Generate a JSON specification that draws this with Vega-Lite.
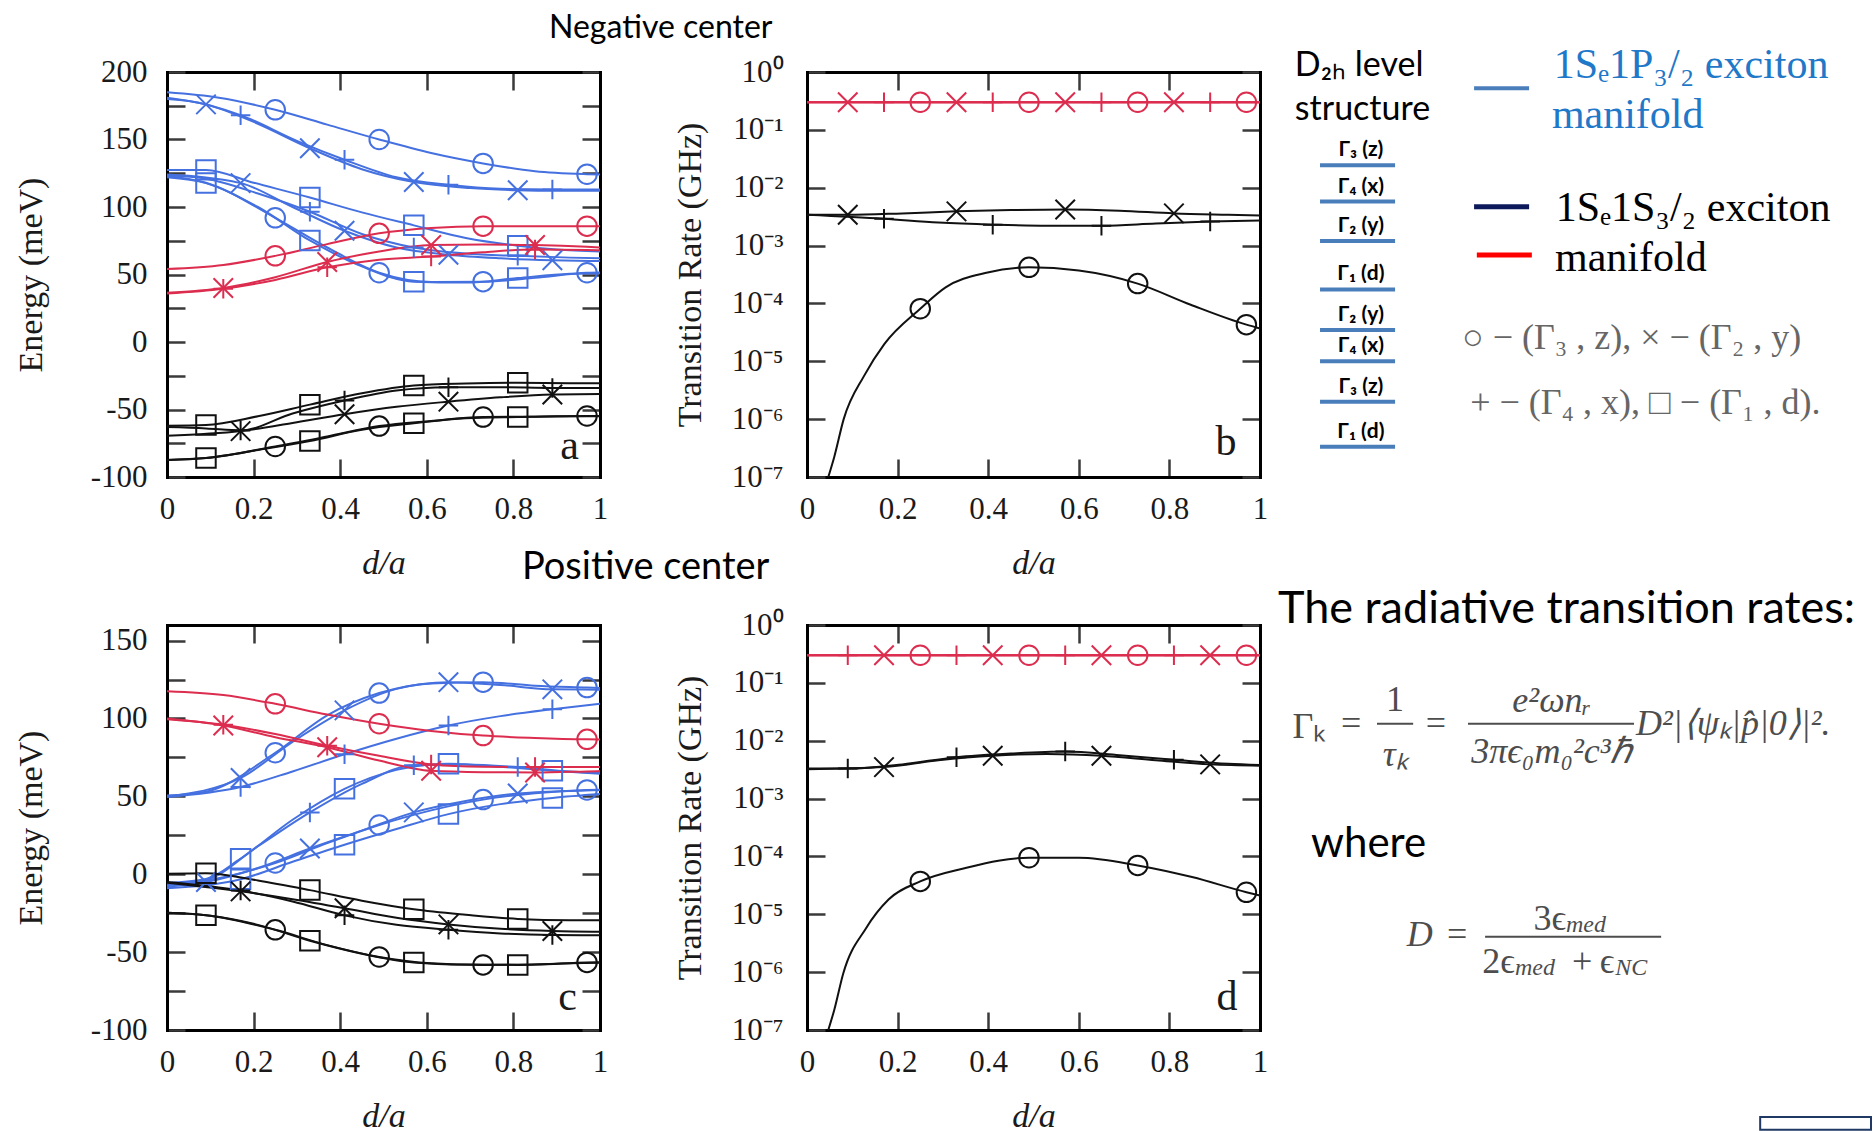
{
"$schema": "https://vega.github.io/schema/vega-lite/v6.json",
"background": "white",
"padding": {"left": 14, "top": 12, "right": 0, "bottom": 0},
"config": {
  "view": {"stroke": null},
  "axis": {"grid": false, "domainColor": "#000", "domainWidth": 3, "domainCap": "square", "tickColor": "#3a3a3a", "tickWidth": 2.5, "tickSize": -18, "labelFont": "Liberation Serif", "labelFontSize": 31, "labelColor": "#1a1a1a", "titleFont": "Liberation Serif", "titleFontSize": 34, "titleFontWeight": "normal", "titleColor": "#1a1a1a", "labelOverlap": false, "labelFlush": false},
  "title": {"font": "Lato", "fontSize": 32, "fontWeight": "normal", "color": "#000"}
},
"datasets": {
"a": [
{"s":"P1","g":"P","m":"o","x":0,"y":185,"pt":0},{"s":"P1","g":"P","m":"o","x":0.12,"y":181,"pt":0},{"s":"P1","g":"P","m":"o","x":0.25,"y":172,"pt":1},{"s":"P1","g":"P","m":"o","x":0.37,"y":161,"pt":0},{"s":"P1","g":"P","m":"o","x":0.49,"y":150,"pt":1},{"s":"P1","g":"P","m":"o","x":0.61,"y":140,"pt":0},{"s":"P1","g":"P","m":"o","x":0.73,"y":132.3,"pt":1},{"s":"P1","g":"P","m":"o","x":0.85,"y":126.5,"pt":0},{"s":"P1","g":"P","m":"o","x":0.97,"y":124.3,"pt":1},{"s":"P1","g":"P","m":"o","x":1,"y":124,"pt":0},
{"s":"P2","g":"P","m":"x","x":0,"y":181,"pt":0},{"s":"P2","g":"P","m":"x","x":0.09,"y":176,"pt":1},{"s":"P2","g":"P","m":"x","x":0.2,"y":163,"pt":0},{"s":"P2","g":"P","m":"x","x":0.33,"y":143.5,"pt":1},{"s":"P2","g":"P","m":"x","x":0.45,"y":128,"pt":0},{"s":"P2","g":"P","m":"x","x":0.57,"y":118.5,"pt":1},{"s":"P2","g":"P","m":"x","x":0.7,"y":114,"pt":0},{"s":"P2","g":"P","m":"x","x":0.81,"y":112.4,"pt":1},{"s":"P2","g":"P","m":"x","x":0.9,"y":112,"pt":0},{"s":"P2","g":"P","m":"x","x":1,"y":112,"pt":0},
{"s":"P3","g":"P","m":"+","x":0,"y":180,"pt":0},{"s":"P3","g":"P","m":"+","x":0.05,"y":178.5,"pt":0},{"s":"P3","g":"P","m":"+","x":0.17,"y":168,"pt":1},{"s":"P3","g":"P","m":"+","x":0.3,"y":149,"pt":0},{"s":"P3","g":"P","m":"+","x":0.41,"y":135,"pt":1},{"s":"P3","g":"P","m":"+","x":0.53,"y":122,"pt":0},{"s":"P3","g":"P","m":"+","x":0.65,"y":116.4,"pt":1},{"s":"P3","g":"P","m":"+","x":0.77,"y":113.5,"pt":0},{"s":"P3","g":"P","m":"+","x":0.89,"y":113,"pt":1},{"s":"P3","g":"P","m":"+","x":1,"y":113,"pt":0},
{"s":"P4","g":"P","m":"s","x":0,"y":127.5,"pt":0},{"s":"P4","g":"P","m":"s","x":0.09,"y":127.5,"pt":1},{"s":"P4","g":"P","m":"s","x":0.2,"y":118,"pt":0},{"s":"P4","g":"P","m":"s","x":0.33,"y":107,"pt":1},{"s":"P4","g":"P","m":"s","x":0.45,"y":96,"pt":0},{"s":"P4","g":"P","m":"s","x":0.57,"y":86.4,"pt":1},{"s":"P4","g":"P","m":"s","x":0.69,"y":77,"pt":0},{"s":"P4","g":"P","m":"s","x":0.81,"y":71.3,"pt":1},{"s":"P4","g":"P","m":"s","x":0.9,"y":68.5,"pt":0},{"s":"P4","g":"P","m":"s","x":1,"y":67,"pt":0},
{"s":"P5","g":"P","m":"x","x":0,"y":124,"pt":0},{"s":"P5","g":"P","m":"x","x":0.17,"y":117.7,"pt":1},{"s":"P5","g":"P","m":"x","x":0.29,"y":100,"pt":0},{"s":"P5","g":"P","m":"x","x":0.41,"y":82.4,"pt":1},{"s":"P5","g":"P","m":"x","x":0.53,"y":70,"pt":0},{"s":"P5","g":"P","m":"x","x":0.65,"y":64.6,"pt":1},{"s":"P5","g":"P","m":"x","x":0.77,"y":62,"pt":0},{"s":"P5","g":"P","m":"x","x":0.89,"y":60.6,"pt":1},{"s":"P5","g":"P","m":"x","x":1,"y":60,"pt":0},
{"s":"P6","g":"P","m":"+","x":0,"y":123.5,"pt":0},{"s":"P6","g":"P","m":"+","x":0.09,"y":121,"pt":0},{"s":"P6","g":"P","m":"+","x":0.21,"y":110,"pt":0},{"s":"P6","g":"P","m":"+","x":0.33,"y":96.5,"pt":1},{"s":"P6","g":"P","m":"+","x":0.45,"y":80,"pt":0},{"s":"P6","g":"P","m":"+","x":0.57,"y":70,"pt":1},{"s":"P6","g":"P","m":"+","x":0.69,"y":65.5,"pt":0},{"s":"P6","g":"P","m":"+","x":0.81,"y":63.8,"pt":1},{"s":"P6","g":"P","m":"+","x":0.93,"y":62.5,"pt":0},{"s":"P6","g":"P","m":"+","x":1,"y":62,"pt":0},
{"s":"P7","g":"P","m":"o","x":0,"y":123,"pt":0},{"s":"P7","g":"P","m":"o","x":0.09,"y":118,"pt":0},{"s":"P7","g":"P","m":"o","x":0.25,"y":92,"pt":1},{"s":"P7","g":"P","m":"o","x":0.37,"y":70,"pt":0},{"s":"P7","g":"P","m":"o","x":0.49,"y":51.3,"pt":1},{"s":"P7","g":"P","m":"o","x":0.61,"y":44.5,"pt":0},{"s":"P7","g":"P","m":"o","x":0.73,"y":44.7,"pt":1},{"s":"P7","g":"P","m":"o","x":0.85,"y":47.5,"pt":0},{"s":"P7","g":"P","m":"o","x":0.97,"y":51.3,"pt":1},{"s":"P7","g":"P","m":"o","x":1,"y":51.5,"pt":0},
{"s":"P8","g":"P","m":"s","x":0,"y":122,"pt":0},{"s":"P8","g":"P","m":"s","x":0.09,"y":117.7,"pt":1},{"s":"P8","g":"P","m":"s","x":0.21,"y":100,"pt":0},{"s":"P8","g":"P","m":"s","x":0.33,"y":75.2,"pt":1},{"s":"P8","g":"P","m":"s","x":0.45,"y":56,"pt":0},{"s":"P8","g":"P","m":"s","x":0.57,"y":44.7,"pt":1},{"s":"P8","g":"P","m":"s","x":0.69,"y":44,"pt":0},{"s":"P8","g":"P","m":"s","x":0.81,"y":47.4,"pt":1},{"s":"P8","g":"P","m":"s","x":0.93,"y":50.5,"pt":0},{"s":"P8","g":"P","m":"s","x":1,"y":51,"pt":0},
{"s":"U1","g":"U","m":"o","x":0,"y":54,"pt":0},{"s":"U1","g":"U","m":"o","x":0.13,"y":57,"pt":0},{"s":"U1","g":"U","m":"o","x":0.25,"y":63.8,"pt":1},{"s":"U1","g":"U","m":"o","x":0.37,"y":72.5,"pt":0},{"s":"U1","g":"U","m":"o","x":0.49,"y":80.5,"pt":1},{"s":"U1","g":"U","m":"o","x":0.61,"y":84.5,"pt":0},{"s":"U1","g":"U","m":"o","x":0.73,"y":85.8,"pt":1},{"s":"U1","g":"U","m":"o","x":0.85,"y":85.8,"pt":0},{"s":"U1","g":"U","m":"o","x":0.97,"y":85.8,"pt":1},{"s":"U1","g":"U","m":"o","x":1,"y":85.8,"pt":0},
{"s":"U2","g":"U","m":"x","x":0,"y":36.5,"pt":0},{"s":"U2","g":"U","m":"x","x":0.13,"y":40,"pt":1},{"s":"U2","g":"U","m":"x","x":0.25,"y":48,"pt":0},{"s":"U2","g":"U","m":"x","x":0.37,"y":59.3,"pt":1},{"s":"U2","g":"U","m":"x","x":0.49,"y":67,"pt":0},{"s":"U2","g":"U","m":"x","x":0.61,"y":71.8,"pt":1},{"s":"U2","g":"U","m":"x","x":0.73,"y":72.2,"pt":0},{"s":"U2","g":"U","m":"x","x":0.85,"y":71.8,"pt":1},{"s":"U2","g":"U","m":"x","x":0.97,"y":70.5,"pt":0},{"s":"U2","g":"U","m":"x","x":1,"y":70,"pt":0},
{"s":"U3","g":"U","m":"+","x":0,"y":36,"pt":0},{"s":"U3","g":"U","m":"+","x":0.13,"y":39.5,"pt":1},{"s":"U3","g":"U","m":"+","x":0.25,"y":46,"pt":0},{"s":"U3","g":"U","m":"+","x":0.37,"y":55.3,"pt":1},{"s":"U3","g":"U","m":"+","x":0.49,"y":61,"pt":0},{"s":"U3","g":"U","m":"+","x":0.61,"y":63.3,"pt":1},{"s":"U3","g":"U","m":"+","x":0.73,"y":66.5,"pt":0},{"s":"U3","g":"U","m":"+","x":0.85,"y":68.6,"pt":1},{"s":"U3","g":"U","m":"+","x":0.97,"y":68.2,"pt":0},{"s":"U3","g":"U","m":"+","x":1,"y":68,"pt":0},
{"s":"L1","g":"L","m":"s","x":0,"y":-62,"pt":0},{"s":"L1","g":"L","m":"s","x":0.09,"y":-61.5,"pt":1},{"s":"L1","g":"L","m":"s","x":0.21,"y":-55,"pt":0},{"s":"L1","g":"L","m":"s","x":0.33,"y":-46.4,"pt":1},{"s":"L1","g":"L","m":"s","x":0.45,"y":-38,"pt":0},{"s":"L1","g":"L","m":"s","x":0.57,"y":-32.3,"pt":1},{"s":"L1","g":"L","m":"s","x":0.69,"y":-30.8,"pt":0},{"s":"L1","g":"L","m":"s","x":0.81,"y":-30.2,"pt":1},{"s":"L1","g":"L","m":"s","x":0.93,"y":-30.5,"pt":0},{"s":"L1","g":"L","m":"s","x":1,"y":-30.5,"pt":0},
{"s":"L2","g":"L","m":"+","x":0,"y":-63,"pt":0},{"s":"L2","g":"L","m":"+","x":0.09,"y":-64,"pt":0},{"s":"L2","g":"L","m":"+","x":0.17,"y":-65.5,"pt":1},{"s":"L2","g":"L","m":"+","x":0.29,"y":-53,"pt":0},{"s":"L2","g":"L","m":"+","x":0.41,"y":-43.4,"pt":1},{"s":"L2","g":"L","m":"+","x":0.53,"y":-36,"pt":0},{"s":"L2","g":"L","m":"+","x":0.65,"y":-33.6,"pt":1},{"s":"L2","g":"L","m":"+","x":0.77,"y":-33.5,"pt":0},{"s":"L2","g":"L","m":"+","x":0.89,"y":-34,"pt":1},{"s":"L2","g":"L","m":"+","x":1,"y":-34,"pt":0},
{"s":"L3","g":"L","m":"x","x":0,"y":-69.5,"pt":0},{"s":"L3","g":"L","m":"x","x":0.17,"y":-66,"pt":1},{"s":"L3","g":"L","m":"x","x":0.29,"y":-60,"pt":0},{"s":"L3","g":"L","m":"x","x":0.41,"y":-53.5,"pt":1},{"s":"L3","g":"L","m":"x","x":0.53,"y":-48,"pt":0},{"s":"L3","g":"L","m":"x","x":0.65,"y":-44.2,"pt":1},{"s":"L3","g":"L","m":"x","x":0.77,"y":-41,"pt":0},{"s":"L3","g":"L","m":"x","x":0.89,"y":-38.9,"pt":1},{"s":"L3","g":"L","m":"x","x":1,"y":-38.5,"pt":0},
{"s":"L4","g":"L","m":"o","x":0,"y":-87.5,"pt":0},{"s":"L4","g":"L","m":"o","x":0.09,"y":-86,"pt":0},{"s":"L4","g":"L","m":"o","x":0.25,"y":-77.4,"pt":1},{"s":"L4","g":"L","m":"o","x":0.37,"y":-70,"pt":0},{"s":"L4","g":"L","m":"o","x":0.49,"y":-62.3,"pt":1},{"s":"L4","g":"L","m":"o","x":0.61,"y":-58.5,"pt":0},{"s":"L4","g":"L","m":"o","x":0.73,"y":-55.6,"pt":1},{"s":"L4","g":"L","m":"o","x":0.85,"y":-55.3,"pt":0},{"s":"L4","g":"L","m":"o","x":0.97,"y":-54.8,"pt":1},{"s":"L4","g":"L","m":"o","x":1,"y":-54.8,"pt":0},
{"s":"L5","g":"L","m":"s","x":0,"y":-87.5,"pt":0},{"s":"L5","g":"L","m":"s","x":0.09,"y":-86,"pt":1},{"s":"L5","g":"L","m":"s","x":0.21,"y":-80,"pt":0},{"s":"L5","g":"L","m":"s","x":0.33,"y":-73.4,"pt":1},{"s":"L5","g":"L","m":"s","x":0.45,"y":-65,"pt":0},{"s":"L5","g":"L","m":"s","x":0.57,"y":-60.2,"pt":1},{"s":"L5","g":"L","m":"s","x":0.69,"y":-56.5,"pt":0},{"s":"L5","g":"L","m":"s","x":0.81,"y":-55.6,"pt":1},{"s":"L5","g":"L","m":"s","x":0.93,"y":-55,"pt":0},{"s":"L5","g":"L","m":"s","x":1,"y":-55,"pt":0}
],
"c": [
{"s":"P1","g":"P","m":"o","x":0,"y":50.5,"pt":0},{"s":"P1","g":"P","m":"o","x":0.09,"y":53,"pt":0},{"s":"P1","g":"P","m":"o","x":0.25,"y":78,"pt":1},{"s":"P1","g":"P","m":"o","x":0.37,"y":102,"pt":0},{"s":"P1","g":"P","m":"o","x":0.49,"y":116.3,"pt":1},{"s":"P1","g":"P","m":"o","x":0.61,"y":122.5,"pt":0},{"s":"P1","g":"P","m":"o","x":0.73,"y":123.3,"pt":1},{"s":"P1","g":"P","m":"o","x":0.85,"y":121,"pt":0},{"s":"P1","g":"P","m":"o","x":0.97,"y":119.8,"pt":1},{"s":"P1","g":"P","m":"o","x":1,"y":119.5,"pt":0},
{"s":"P2","g":"P","m":"x","x":0,"y":50,"pt":0},{"s":"P2","g":"P","m":"x","x":0.17,"y":61.8,"pt":1},{"s":"P2","g":"P","m":"x","x":0.29,"y":85,"pt":0},{"s":"P2","g":"P","m":"x","x":0.41,"y":105.2,"pt":1},{"s":"P2","g":"P","m":"x","x":0.53,"y":119,"pt":0},{"s":"P2","g":"P","m":"x","x":0.65,"y":123.3,"pt":1},{"s":"P2","g":"P","m":"x","x":0.77,"y":121.5,"pt":0},{"s":"P2","g":"P","m":"x","x":0.89,"y":118.7,"pt":1},{"s":"P2","g":"P","m":"x","x":1,"y":118.5,"pt":0},
{"s":"P3","g":"P","m":"+","x":0,"y":49.5,"pt":0},{"s":"P3","g":"P","m":"+","x":0.17,"y":56,"pt":1},{"s":"P3","g":"P","m":"+","x":0.29,"y":66,"pt":0},{"s":"P3","g":"P","m":"+","x":0.41,"y":77,"pt":1},{"s":"P3","g":"P","m":"+","x":0.53,"y":87,"pt":0},{"s":"P3","g":"P","m":"+","x":0.65,"y":95.5,"pt":1},{"s":"P3","g":"P","m":"+","x":0.77,"y":101.5,"pt":0},{"s":"P3","g":"P","m":"+","x":0.89,"y":105.9,"pt":1},{"s":"P3","g":"P","m":"+","x":1,"y":109.4,"pt":0},
{"s":"P4","g":"P","m":"s","x":0,"y":-5.5,"pt":0},{"s":"P4","g":"P","m":"s","x":0.09,"y":-3,"pt":0},{"s":"P4","g":"P","m":"s","x":0.17,"y":10,"pt":1},{"s":"P4","g":"P","m":"s","x":0.29,"y":35,"pt":0},{"s":"P4","g":"P","m":"s","x":0.41,"y":54.8,"pt":1},{"s":"P4","g":"P","m":"s","x":0.53,"y":67,"pt":0},{"s":"P4","g":"P","m":"s","x":0.65,"y":71,"pt":1},{"s":"P4","g":"P","m":"s","x":0.77,"y":69,"pt":0},{"s":"P4","g":"P","m":"s","x":0.89,"y":66.4,"pt":1},{"s":"P4","g":"P","m":"s","x":1,"y":64.5,"pt":0},
{"s":"P5","g":"P","m":"+","x":0,"y":-6,"pt":0},{"s":"P5","g":"P","m":"+","x":0.09,"y":-3.5,"pt":0},{"s":"P5","g":"P","m":"+","x":0.21,"y":18,"pt":0},{"s":"P5","g":"P","m":"+","x":0.33,"y":39.7,"pt":1},{"s":"P5","g":"P","m":"+","x":0.45,"y":58,"pt":0},{"s":"P5","g":"P","m":"+","x":0.57,"y":70,"pt":1},{"s":"P5","g":"P","m":"+","x":0.69,"y":70.5,"pt":0},{"s":"P5","g":"P","m":"+","x":0.81,"y":68.8,"pt":1},{"s":"P5","g":"P","m":"+","x":0.93,"y":66,"pt":0},{"s":"P5","g":"P","m":"+","x":1,"y":65,"pt":0},
{"s":"P6","g":"P","m":"o","x":0,"y":-7,"pt":0},{"s":"P6","g":"P","m":"o","x":0.09,"y":-4,"pt":0},{"s":"P6","g":"P","m":"o","x":0.25,"y":7.2,"pt":1},{"s":"P6","g":"P","m":"o","x":0.37,"y":20,"pt":0},{"s":"P6","g":"P","m":"o","x":0.49,"y":31.6,"pt":1},{"s":"P6","g":"P","m":"o","x":0.61,"y":41,"pt":0},{"s":"P6","g":"P","m":"o","x":0.73,"y":47.9,"pt":1},{"s":"P6","g":"P","m":"o","x":0.85,"y":52,"pt":0},{"s":"P6","g":"P","m":"o","x":0.97,"y":54.1,"pt":1},{"s":"P6","g":"P","m":"o","x":1,"y":54.3,"pt":0},
{"s":"P7","g":"P","m":"x","x":0,"y":-8,"pt":0},{"s":"P7","g":"P","m":"x","x":0.09,"y":-5,"pt":1},{"s":"P7","g":"P","m":"x","x":0.21,"y":4,"pt":0},{"s":"P7","g":"P","m":"x","x":0.33,"y":16.5,"pt":1},{"s":"P7","g":"P","m":"x","x":0.45,"y":28,"pt":0},{"s":"P7","g":"P","m":"x","x":0.57,"y":39.7,"pt":1},{"s":"P7","g":"P","m":"x","x":0.69,"y":47,"pt":0},{"s":"P7","g":"P","m":"x","x":0.81,"y":51.8,"pt":1},{"s":"P7","g":"P","m":"x","x":0.93,"y":53.5,"pt":0},{"s":"P7","g":"P","m":"x","x":1,"y":54,"pt":0},
{"s":"P8","g":"P","m":"s","x":0,"y":-9,"pt":0},{"s":"P8","g":"P","m":"s","x":0.17,"y":-3.2,"pt":1},{"s":"P8","g":"P","m":"s","x":0.29,"y":8,"pt":0},{"s":"P8","g":"P","m":"s","x":0.41,"y":18.9,"pt":1},{"s":"P8","g":"P","m":"s","x":0.53,"y":29,"pt":0},{"s":"P8","g":"P","m":"s","x":0.65,"y":38.6,"pt":1},{"s":"P8","g":"P","m":"s","x":0.77,"y":45,"pt":0},{"s":"P8","g":"P","m":"s","x":0.89,"y":49,"pt":1},{"s":"P8","g":"P","m":"s","x":1,"y":51.5,"pt":0},
{"s":"U1","g":"U","m":"o","x":0,"y":117.5,"pt":0},{"s":"U1","g":"U","m":"o","x":0.13,"y":115,"pt":0},{"s":"U1","g":"U","m":"o","x":0.25,"y":109.4,"pt":1},{"s":"U1","g":"U","m":"o","x":0.37,"y":102.5,"pt":0},{"s":"U1","g":"U","m":"o","x":0.49,"y":96.6,"pt":1},{"s":"U1","g":"U","m":"o","x":0.61,"y":92,"pt":0},{"s":"U1","g":"U","m":"o","x":0.73,"y":89,"pt":1},{"s":"U1","g":"U","m":"o","x":0.85,"y":87.5,"pt":0},{"s":"U1","g":"U","m":"o","x":0.97,"y":86.6,"pt":1},{"s":"U1","g":"U","m":"o","x":1,"y":86.5,"pt":0},
{"s":"U2","g":"U","m":"x","x":0,"y":100,"pt":0},{"s":"U2","g":"U","m":"x","x":0.13,"y":95.5,"pt":1},{"s":"U2","g":"U","m":"x","x":0.25,"y":88,"pt":0},{"s":"U2","g":"U","m":"x","x":0.37,"y":81.5,"pt":1},{"s":"U2","g":"U","m":"x","x":0.49,"y":73,"pt":0},{"s":"U2","g":"U","m":"x","x":0.61,"y":66.4,"pt":1},{"s":"U2","g":"U","m":"x","x":0.73,"y":65.5,"pt":0},{"s":"U2","g":"U","m":"x","x":0.85,"y":65.3,"pt":1},{"s":"U2","g":"U","m":"x","x":0.97,"y":66,"pt":0},{"s":"U2","g":"U","m":"x","x":1,"y":66.2,"pt":0},
{"s":"U3","g":"U","m":"+","x":0,"y":99.5,"pt":0},{"s":"U3","g":"U","m":"+","x":0.13,"y":96,"pt":1},{"s":"U3","g":"U","m":"+","x":0.25,"y":90,"pt":0},{"s":"U3","g":"U","m":"+","x":0.37,"y":82.5,"pt":1},{"s":"U3","g":"U","m":"+","x":0.49,"y":76,"pt":0},{"s":"U3","g":"U","m":"+","x":0.61,"y":70.5,"pt":1},{"s":"U3","g":"U","m":"+","x":0.73,"y":69,"pt":0},{"s":"U3","g":"U","m":"+","x":0.85,"y":68.8,"pt":1},{"s":"U3","g":"U","m":"+","x":0.97,"y":68.8,"pt":0},{"s":"U3","g":"U","m":"+","x":1,"y":68.8,"pt":0},
{"s":"L1","g":"L","m":"s","x":0,"y":0.3,"pt":0},{"s":"L1","g":"L","m":"s","x":0.09,"y":0.7,"pt":1},{"s":"L1","g":"L","m":"s","x":0.21,"y":-4,"pt":0},{"s":"L1","g":"L","m":"s","x":0.33,"y":-10.2,"pt":1},{"s":"L1","g":"L","m":"s","x":0.45,"y":-17,"pt":0},{"s":"L1","g":"L","m":"s","x":0.57,"y":-22.5,"pt":1},{"s":"L1","g":"L","m":"s","x":0.69,"y":-26,"pt":0},{"s":"L1","g":"L","m":"s","x":0.81,"y":-28.7,"pt":1},{"s":"L1","g":"L","m":"s","x":0.93,"y":-29.5,"pt":0},{"s":"L1","g":"L","m":"s","x":1,"y":-29.5,"pt":0},
{"s":"L2","g":"L","m":"+","x":0,"y":-5,"pt":0},{"s":"L2","g":"L","m":"+","x":0.17,"y":-10.5,"pt":1},{"s":"L2","g":"L","m":"+","x":0.29,"y":-17.5,"pt":0},{"s":"L2","g":"L","m":"+","x":0.41,"y":-26.4,"pt":1},{"s":"L2","g":"L","m":"+","x":0.53,"y":-32.5,"pt":0},{"s":"L2","g":"L","m":"+","x":0.65,"y":-35.7,"pt":1},{"s":"L2","g":"L","m":"+","x":0.77,"y":-38,"pt":0},{"s":"L2","g":"L","m":"+","x":0.89,"y":-39,"pt":1},{"s":"L2","g":"L","m":"+","x":1,"y":-39.2,"pt":0},
{"s":"L3","g":"L","m":"x","x":0,"y":-5.5,"pt":0},{"s":"L3","g":"L","m":"x","x":0.17,"y":-11,"pt":1},{"s":"L3","g":"L","m":"x","x":0.29,"y":-16,"pt":0},{"s":"L3","g":"L","m":"x","x":0.41,"y":-21.8,"pt":1},{"s":"L3","g":"L","m":"x","x":0.53,"y":-28,"pt":0},{"s":"L3","g":"L","m":"x","x":0.65,"y":-32.2,"pt":1},{"s":"L3","g":"L","m":"x","x":0.77,"y":-35,"pt":0},{"s":"L3","g":"L","m":"x","x":0.89,"y":-36.4,"pt":1},{"s":"L3","g":"L","m":"x","x":1,"y":-36.9,"pt":0},
{"s":"L4","g":"L","m":"o","x":0,"y":-24.8,"pt":0},{"s":"L4","g":"L","m":"o","x":0.09,"y":-26.4,"pt":0},{"s":"L4","g":"L","m":"o","x":0.25,"y":-35.7,"pt":1},{"s":"L4","g":"L","m":"o","x":0.37,"y":-45.5,"pt":0},{"s":"L4","g":"L","m":"o","x":0.49,"y":-53.1,"pt":1},{"s":"L4","g":"L","m":"o","x":0.61,"y":-57.2,"pt":0},{"s":"L4","g":"L","m":"o","x":0.73,"y":-58.2,"pt":1},{"s":"L4","g":"L","m":"o","x":0.85,"y":-58,"pt":0},{"s":"L4","g":"L","m":"o","x":0.97,"y":-56.6,"pt":1},{"s":"L4","g":"L","m":"o","x":1,"y":-56.5,"pt":0},
{"s":"L5","g":"L","m":"s","x":0,"y":-24.8,"pt":0},{"s":"L5","g":"L","m":"s","x":0.09,"y":-26.4,"pt":1},{"s":"L5","g":"L","m":"s","x":0.21,"y":-32.5,"pt":0},{"s":"L5","g":"L","m":"s","x":0.33,"y":-42.7,"pt":1},{"s":"L5","g":"L","m":"s","x":0.45,"y":-51,"pt":0},{"s":"L5","g":"L","m":"s","x":0.57,"y":-56.6,"pt":1},{"s":"L5","g":"L","m":"s","x":0.69,"y":-58,"pt":0},{"s":"L5","g":"L","m":"s","x":0.81,"y":-58.2,"pt":1},{"s":"L5","g":"L","m":"s","x":0.93,"y":-57.2,"pt":0},{"s":"L5","g":"L","m":"s","x":1,"y":-56.8,"pt":0}
],
"b": [
{"s":"U1","g":"U","m":"x","x":0,"y":0.3,"pt":0},{"s":"U1","g":"U","m":"x","x":0.09,"y":0.3,"pt":1},{"s":"U1","g":"U","m":"x","x":0.33,"y":0.3,"pt":1},{"s":"U1","g":"U","m":"x","x":0.57,"y":0.3,"pt":1},{"s":"U1","g":"U","m":"x","x":0.81,"y":0.3,"pt":1},{"s":"U1","g":"U","m":"x","x":1,"y":0.3,"pt":0},
{"s":"U2","g":"U","m":"+","x":0,"y":0.3,"pt":0},{"s":"U2","g":"U","m":"+","x":0.17,"y":0.3,"pt":1},{"s":"U2","g":"U","m":"+","x":0.41,"y":0.3,"pt":1},{"s":"U2","g":"U","m":"+","x":0.65,"y":0.3,"pt":1},{"s":"U2","g":"U","m":"+","x":0.89,"y":0.3,"pt":1},{"s":"U2","g":"U","m":"+","x":1,"y":0.3,"pt":0},
{"s":"U3","g":"U","m":"o","x":0,"y":0.3,"pt":0},{"s":"U3","g":"U","m":"o","x":0.25,"y":0.3,"pt":1},{"s":"U3","g":"U","m":"o","x":0.49,"y":0.3,"pt":1},{"s":"U3","g":"U","m":"o","x":0.73,"y":0.3,"pt":1},{"s":"U3","g":"U","m":"o","x":0.97,"y":0.3,"pt":1},{"s":"U3","g":"U","m":"o","x":1,"y":0.3,"pt":0},
{"s":"L1","g":"L","m":"x","x":0,"y":0.0034,"pt":0},{"s":"L1","g":"L","m":"x","x":0.09,"y":0.0034,"pt":1},{"s":"L1","g":"L","m":"x","x":0.21,"y":0.0036,"pt":0},{"s":"L1","g":"L","m":"x","x":0.33,"y":0.0039,"pt":1},{"s":"L1","g":"L","m":"x","x":0.45,"y":0.0041,"pt":0},{"s":"L1","g":"L","m":"x","x":0.57,"y":0.0042,"pt":1},{"s":"L1","g":"L","m":"x","x":0.69,"y":0.004,"pt":0},{"s":"L1","g":"L","m":"x","x":0.81,"y":0.0036,"pt":1},{"s":"L1","g":"L","m":"x","x":0.93,"y":0.0034,"pt":0},{"s":"L1","g":"L","m":"x","x":1,"y":0.0033,"pt":0},
{"s":"L2","g":"L","m":"+","x":0,"y":0.0034,"pt":0},{"s":"L2","g":"L","m":"+","x":0.17,"y":0.0029,"pt":1},{"s":"L2","g":"L","m":"+","x":0.29,"y":0.0025,"pt":0},{"s":"L2","g":"L","m":"+","x":0.41,"y":0.0023,"pt":1},{"s":"L2","g":"L","m":"+","x":0.53,"y":0.0022,"pt":0},{"s":"L2","g":"L","m":"+","x":0.65,"y":0.0022,"pt":1},{"s":"L2","g":"L","m":"+","x":0.77,"y":0.0024,"pt":0},{"s":"L2","g":"L","m":"+","x":0.89,"y":0.0026,"pt":1},{"s":"L2","g":"L","m":"+","x":1,"y":0.0027,"pt":0},
{"s":"L3","g":"L","m":"o","x":0.047,"y":1e-7,"pt":0},{"s":"L3","g":"L","m":"o","x":0.06,"y":2.2e-7,"pt":0},{"s":"L3","g":"L","m":"o","x":0.081,"y":1e-6,"pt":0},{"s":"L3","g":"L","m":"o","x":0.126,"y":5.6e-6,"pt":0},{"s":"L3","g":"L","m":"o","x":0.171,"y":2e-5,"pt":0},{"s":"L3","g":"L","m":"o","x":0.25,"y":8.1e-5,"pt":1},{"s":"L3","g":"L","m":"o","x":0.306,"y":1.9e-4,"pt":0},{"s":"L3","g":"L","m":"o","x":0.396,"y":3.4e-4,"pt":0},{"s":"L3","g":"L","m":"o","x":0.49,"y":4.2e-4,"pt":1},{"s":"L3","g":"L","m":"o","x":0.6,"y":3.7e-4,"pt":0},{"s":"L3","g":"L","m":"o","x":0.73,"y":2.2e-4,"pt":1},{"s":"L3","g":"L","m":"o","x":0.847,"y":9.5e-5,"pt":0},{"s":"L3","g":"L","m":"o","x":0.97,"y":4.3e-5,"pt":1},{"s":"L3","g":"L","m":"o","x":1,"y":3.7e-5,"pt":0}
],
"d": [
{"s":"U1","g":"U","m":"+","x":0,"y":0.3,"pt":0},{"s":"U1","g":"U","m":"+","x":0.09,"y":0.3,"pt":1},{"s":"U1","g":"U","m":"+","x":0.33,"y":0.3,"pt":1},{"s":"U1","g":"U","m":"+","x":0.57,"y":0.3,"pt":1},{"s":"U1","g":"U","m":"+","x":0.81,"y":0.3,"pt":1},{"s":"U1","g":"U","m":"+","x":1,"y":0.3,"pt":0},
{"s":"U2","g":"U","m":"x","x":0,"y":0.3,"pt":0},{"s":"U2","g":"U","m":"x","x":0.17,"y":0.3,"pt":1},{"s":"U2","g":"U","m":"x","x":0.41,"y":0.3,"pt":1},{"s":"U2","g":"U","m":"x","x":0.65,"y":0.3,"pt":1},{"s":"U2","g":"U","m":"x","x":0.89,"y":0.3,"pt":1},{"s":"U2","g":"U","m":"x","x":1,"y":0.3,"pt":0},
{"s":"U3","g":"U","m":"o","x":0,"y":0.3,"pt":0},{"s":"U3","g":"U","m":"o","x":0.25,"y":0.3,"pt":1},{"s":"U3","g":"U","m":"o","x":0.49,"y":0.3,"pt":1},{"s":"U3","g":"U","m":"o","x":0.73,"y":0.3,"pt":1},{"s":"U3","g":"U","m":"o","x":0.97,"y":0.3,"pt":1},{"s":"U3","g":"U","m":"o","x":1,"y":0.3,"pt":0},
{"s":"L1","g":"L","m":"+","x":0,"y":0.0033,"pt":0},{"s":"L1","g":"L","m":"+","x":0.09,"y":0.0033,"pt":1},{"s":"L1","g":"L","m":"+","x":0.21,"y":0.0039,"pt":0},{"s":"L1","g":"L","m":"+","x":0.33,"y":0.0052,"pt":1},{"s":"L1","g":"L","m":"+","x":0.45,"y":0.006,"pt":0},{"s":"L1","g":"L","m":"+","x":0.57,"y":0.0065,"pt":1},{"s":"L1","g":"L","m":"+","x":0.69,"y":0.0056,"pt":0},{"s":"L1","g":"L","m":"+","x":0.81,"y":0.0047,"pt":1},{"s":"L1","g":"L","m":"+","x":0.93,"y":0.004,"pt":0},{"s":"L1","g":"L","m":"+","x":1,"y":0.0038,"pt":0},
{"s":"L2","g":"L","m":"x","x":0,"y":0.0032,"pt":0},{"s":"L2","g":"L","m":"x","x":0.17,"y":0.0035,"pt":1},{"s":"L2","g":"L","m":"x","x":0.29,"y":0.0046,"pt":0},{"s":"L2","g":"L","m":"x","x":0.41,"y":0.0055,"pt":1},{"s":"L2","g":"L","m":"x","x":0.53,"y":0.0059,"pt":0},{"s":"L2","g":"L","m":"x","x":0.65,"y":0.0055,"pt":1},{"s":"L2","g":"L","m":"x","x":0.77,"y":0.0046,"pt":0},{"s":"L2","g":"L","m":"x","x":0.89,"y":0.0039,"pt":1},{"s":"L2","g":"L","m":"x","x":1,"y":0.0037,"pt":0},
{"s":"L3","g":"L","m":"o","x":0.047,"y":1e-7,"pt":0},{"s":"L3","g":"L","m":"o","x":0.06,"y":2.2e-7,"pt":0},{"s":"L3","g":"L","m":"o","x":0.08,"y":9.5e-7,"pt":0},{"s":"L3","g":"L","m":"o","x":0.13,"y":5.7e-6,"pt":0},{"s":"L3","g":"L","m":"o","x":0.18,"y":1.8e-5,"pt":0},{"s":"L3","g":"L","m":"o","x":0.25,"y":3.7e-5,"pt":1},{"s":"L3","g":"L","m":"o","x":0.35,"y":6.3e-5,"pt":0},{"s":"L3","g":"L","m":"o","x":0.49,"y":9.5e-5,"pt":1},{"s":"L3","g":"L","m":"o","x":0.6,"y":9.5e-5,"pt":0},{"s":"L3","g":"L","m":"o","x":0.73,"y":7e-5,"pt":1},{"s":"L3","g":"L","m":"o","x":0.85,"y":4.4e-5,"pt":0},{"s":"L3","g":"L","m":"o","x":0.97,"y":2.4e-5,"pt":1},{"s":"L3","g":"L","m":"o","x":1,"y":2.1e-5,"pt":0}
]
},
"columns": 3,
"bounds": "flush",
"align": "each",
"spacing": {"row": 148, "column": 207},
"concat": [
{
 "width": 433, "height": 405, "data": {"name": "a"},
 "title": {"text": "Negative center", "anchor": "start", "frame": "group", "dx": 382, "offset": -4, "baseline": "middle"},
 "layer": [
  {"mark": {"type": "line", "interpolate": "monotone", "strokeWidth": 2, "clip": true},
   "encoding": {
    "x": {"field": "x", "type": "quantitative", "scale": {"domain": [0, 1]}, "axis": {"orient": "bottom", "values": [0, 0.2, 0.4, 0.6, 0.8, 1], "format": "~g", "labelPadding": 50, "labelBaseline": "middle", "title": "d/a", "titleFontStyle": "italic", "titleX": 216.5, "titleY": 86, "titleBaseline": "middle", "titleAlign": "center", "titleAngle": 0}},
    "y": {"field": "y", "type": "quantitative", "scale": {"domain": [-100, 200]}, "axis": {"orient": "left", "values": [-100, -75, -50, -25, 0, 25, 50, 75, 100, 125, 150, 175, 200], "labelExpr": "datum.value % 50 === 0 ? '' + datum.value : ''", "labelPadding": 38, "title": "Energy (meV)", "titleX": -136, "titleY": 202.5, "titleAngle": 270, "titleBaseline": "middle", "titleAlign": "center"}},
    "color": {"field": "g", "type": "nominal", "scale": {"domain": ["P", "U", "L"], "range": ["#4570e0", "#dc2d4f", "#111111"]}, "legend": null},
    "detail": {"field": "s"}}},
  {"transform": [{"filter": "datum.pt == 1"}],
   "mark": {"type": "point", "filled": false, "strokeWidth": 2, "size": 380, "opacity": 1},
   "encoding": {
    "x": {"field": "x", "type": "quantitative", "axis": {"orient": "top", "values": [0, 0.2, 0.4, 0.6, 0.8, 1], "labels": false, "title": null}},
    "y": {"field": "y", "type": "quantitative", "axis": {"orient": "right", "values": [-100, -75, -50, -25, 0, 25, 50, 75, 100, 125, 150, 175, 200], "labels": false, "title": null}},
    "color": {"field": "g", "type": "nominal", "scale": {"domain": ["P", "U", "L"], "range": ["#4570e0", "#dc2d4f", "#111111"]}, "legend": null},
    "shape": {"field": "m", "type": "nominal", "scale": {"domain": ["o", "x", "+", "s"], "range": ["circle", "M-1,-1L1,1M-1,1L1,-1", "M-1,0L1,0M0,-1L0,1", "square"]}, "legend": null}}},
  {"data": {"values": [{"t": "a"}]},
   "mark": {"type": "text", "font": "Liberation Serif", "fontSize": 42, "baseline": "middle", "align": "center", "color": "#1a1a1a"},
   "encoding": {"x": {"datum": 0.93, "type": "quantitative", "axis": null}, "y": {"datum": -77, "type": "quantitative", "axis": null}, "text": {"field": "t"}}}
 ],
 "resolve": {"axis": {"x": "independent", "y": "independent"}}
},
{
 "width": 453, "height": 405, "data": {"name": "b"},
 "layer": [
  {"mark": {"type": "line", "interpolate": "monotone", "strokeWidth": 2, "clip": true},
   "encoding": {
    "x": {"field": "x", "type": "quantitative", "scale": {"domain": [0, 1]}, "axis": {"orient": "bottom", "values": [0, 0.2, 0.4, 0.6, 0.8, 1], "format": "~g", "labelPadding": 50, "labelBaseline": "middle", "title": "d/a", "titleFontStyle": "italic", "titleX": 226.5, "titleY": 86, "titleBaseline": "middle", "titleAlign": "center", "titleAngle": 0}},
    "y": {"field": "y", "type": "quantitative", "scale": {"type": "log", "domain": [1e-7, 1]}, "axis": {"orient": "left", "values": [1e-7, 1e-6, 1e-5, 1e-4, 1e-3, 1e-2, 1e-1, 1], "labelExpr": "['10⁰','10⁻¹','10⁻²','10⁻³','10⁻⁴','10⁻⁵','10⁻⁶','10⁻⁷'][round(-log(datum.value)/LN10)]", "labelPadding": 42, "title": "Transition Rate (GHz)", "titleX": -117, "titleY": 202.5, "titleAngle": 270, "titleBaseline": "middle", "titleAlign": "center"}},
    "color": {"field": "g", "type": "nominal", "scale": {"domain": ["P", "U", "L"], "range": ["#4570e0", "#dc2d4f", "#111111"]}, "legend": null},
    "detail": {"field": "s"}}},
  {"transform": [{"filter": "datum.pt == 1"}],
   "mark": {"type": "point", "filled": false, "strokeWidth": 2, "size": 380, "opacity": 1},
   "encoding": {
    "x": {"field": "x", "type": "quantitative", "axis": {"orient": "top", "values": [0, 0.2, 0.4, 0.6, 0.8, 1], "labels": false, "title": null}},
    "y": {"field": "y", "type": "quantitative", "axis": {"orient": "right", "values": [1e-7, 1e-6, 1e-5, 1e-4, 1e-3, 1e-2, 1e-1, 1], "labels": false, "title": null}},
    "color": {"field": "g", "type": "nominal", "scale": {"domain": ["P", "U", "L"], "range": ["#4570e0", "#dc2d4f", "#111111"]}, "legend": null},
    "shape": {"field": "m", "type": "nominal", "scale": {"domain": ["o", "x", "+", "s"], "range": ["circle", "M-1,-1L1,1M-1,1L1,-1", "M-1,0L1,0M0,-1L0,1", "square"]}, "legend": null}}},
  {"data": {"values": [{"t": "b"}]},
   "mark": {"type": "text", "font": "Liberation Serif", "fontSize": 42, "baseline": "middle", "align": "center", "color": "#1a1a1a"},
   "encoding": {"x": {"datum": 0.925, "type": "quantitative", "axis": null}, "y": {"datum": 4e-7, "type": "quantitative", "axis": null}, "text": {"field": "t"}}}
 ],
 "resolve": {"axis": {"x": "independent", "y": "independent"}}
},
{
 "width": 393, "height": 405, "data": {"values": [{}]},
 "layer": [
  {"mark": {"type": "text", "text": "D₂ₕ level", "align": "left", "baseline": "middle", "font": "Lato", "fontSize": 34, "color": "#000"},
   "encoding": {"x": {"datum": -43.8, "type": "quantitative", "scale": {"domain": [0, 100]}, "axis": null}, "y": {"datum": 101.5, "type": "quantitative", "scale": {"domain": [0, 100]}, "axis": null}}},
  {"mark": {"type": "text", "text": "structure", "align": "left", "baseline": "middle", "font": "Lato", "fontSize": 34, "color": "#000"},
   "encoding": {"x": {"datum": -43.8, "type": "quantitative", "scale": {"domain": [0, 100]}, "axis": null}, "y": {"datum": 90.6, "type": "quantitative", "scale": {"domain": [0, 100]}, "axis": null}}},
  {"data": {"values": [{"label": "Γ₃ (z)", "E": 77.0}, {"label": "Γ₄ (x)", "E": 68.0}, {"label": "Γ₂ (y)", "E": 58.3}, {"label": "Γ₁ (d)", "E": 46.3}, {"label": "Γ₂ (y)", "E": 36.3}, {"label": "Γ₄ (x)", "E": 28.6}, {"label": "Γ₃ (z)", "E": 18.6}, {"label": "Γ₁ (d)", "E": 7.5}]},
   "mark": {"type": "rule", "color": "#4a7ebb", "strokeWidth": 4},
   "encoding": {"x": {"datum": -37.4, "type": "quantitative", "scale": {"domain": [0, 100]}, "axis": null}, "x2": {"datum": -18.3}, "y": {"field": "E", "type": "quantitative", "scale": {"domain": [0, 100]}, "axis": null}}},
  {"data": {"values": [{"label": "Γ₃ (z)", "E": 77.0}, {"label": "Γ₄ (x)", "E": 68.0}, {"label": "Γ₂ (y)", "E": 58.3}, {"label": "Γ₁ (d)", "E": 46.3}, {"label": "Γ₂ (y)", "E": 36.3}, {"label": "Γ₄ (x)", "E": 28.6}, {"label": "Γ₃ (z)", "E": 18.6}, {"label": "Γ₁ (d)", "E": 7.5}]},
   "mark": {"type": "text", "align": "center", "baseline": "middle", "dy": -15, "font": "Lato", "fontWeight": "bold", "fontSize": 21, "color": "#000"},
   "encoding": {"x": {"datum": -27.0, "type": "quantitative", "scale": {"domain": [0, 100]}, "axis": null}, "y": {"field": "E", "type": "quantitative", "scale": {"domain": [0, 100]}, "axis": null}, "text": {"field": "label"}}},
  {"mark": {"type": "rule", "color": "#4a7ebb", "strokeWidth": 4},
   "encoding": {"x": {"datum": 1.8, "type": "quantitative", "scale": {"domain": [0, 100]}, "axis": null}, "x2": {"datum": 15.8}, "y": {"datum": 96.0, "type": "quantitative", "scale": {"domain": [0, 100]}, "axis": null}}},
  {"mark": {"type": "rule", "color": "#0c1a5b", "strokeWidth": 5},
   "encoding": {"x": {"datum": 1.8, "type": "quantitative", "scale": {"domain": [0, 100]}, "axis": null}, "x2": {"datum": 15.8}, "y": {"datum": 66.7, "type": "quantitative", "scale": {"domain": [0, 100]}, "axis": null}}},
  {"mark": {"type": "rule", "color": "#ff0000", "strokeWidth": 5},
   "encoding": {"x": {"datum": 2.5, "type": "quantitative", "scale": {"domain": [0, 100]}, "axis": null}, "x2": {"datum": 16.5}, "y": {"datum": 54.8, "type": "quantitative", "scale": {"domain": [0, 100]}, "axis": null}}},
  {"mark": {"type": "text", "text": "1Sₑ1P₃/₂ exciton", "align": "left", "baseline": "middle", "font": "Liberation Serif", "fontSize": 42, "color": "#1f78c8"},
   "encoding": {"x": {"datum": 22.1, "type": "quantitative", "scale": {"domain": [0, 100]}, "axis": null}, "y": {"datum": 101.7, "type": "quantitative", "scale": {"domain": [0, 100]}, "axis": null}}},
  {"mark": {"type": "text", "text": "manifold", "align": "left", "baseline": "middle", "font": "Liberation Serif", "fontSize": 42, "color": "#1f78c8"},
   "encoding": {"x": {"datum": 21.6, "type": "quantitative", "scale": {"domain": [0, 100]}, "axis": null}, "y": {"datum": 89.4, "type": "quantitative", "scale": {"domain": [0, 100]}, "axis": null}}},
  {"mark": {"type": "text", "text": "1Sₑ1S₃/₂ exciton", "align": "left", "baseline": "middle", "font": "Liberation Serif", "fontSize": 42, "color": "#000"},
   "encoding": {"x": {"datum": 22.6, "type": "quantitative", "scale": {"domain": [0, 100]}, "axis": null}, "y": {"datum": 66.4, "type": "quantitative", "scale": {"domain": [0, 100]}, "axis": null}}},
  {"mark": {"type": "text", "text": "manifold", "align": "left", "baseline": "middle", "font": "Liberation Serif", "fontSize": 42, "color": "#000"},
   "encoding": {"x": {"datum": 22.4, "type": "quantitative", "scale": {"domain": [0, 100]}, "axis": null}, "y": {"datum": 54.1, "type": "quantitative", "scale": {"domain": [0, 100]}, "axis": null}}},
  {"mark": {"type": "text", "text": "○ − (Γ₃ , z), × − (Γ₂ , y)", "align": "left", "baseline": "middle", "font": "Liberation Serif", "fontSize": 36, "color": "#666666"},
   "encoding": {"x": {"datum": -1.3, "type": "quantitative", "scale": {"domain": [0, 100]}, "axis": null}, "y": {"datum": 34.3, "type": "quantitative", "scale": {"domain": [0, 100]}, "axis": null}}},
  {"mark": {"type": "text", "text": "+ − (Γ₄ , x),  □ − (Γ₁ , d).", "align": "left", "baseline": "middle", "font": "Liberation Serif", "fontSize": 36, "color": "#666666"},
   "encoding": {"x": {"datum": 0.8, "type": "quantitative", "scale": {"domain": [0, 100]}, "axis": null}, "y": {"datum": 18.3, "type": "quantitative", "scale": {"domain": [0, 100]}, "axis": null}}}
 ]
},
{
 "width": 433, "height": 405, "data": {"name": "c"},
 "title": {"text": "Positive center", "anchor": "start", "frame": "group", "dx": 355, "offset": 18, "baseline": "middle", "fontSize": 38},
 "layer": [
  {"mark": {"type": "line", "interpolate": "monotone", "strokeWidth": 2, "clip": true},
   "encoding": {
    "x": {"field": "x", "type": "quantitative", "scale": {"domain": [0, 1]}, "axis": {"orient": "bottom", "values": [0, 0.2, 0.4, 0.6, 0.8, 1], "format": "~g", "labelPadding": 50, "labelBaseline": "middle", "title": "d/a", "titleFontStyle": "italic", "titleX": 216.5, "titleY": 86, "titleBaseline": "middle", "titleAlign": "center", "titleAngle": 0}},
    "y": {"field": "y", "type": "quantitative", "scale": {"domain": [-100, 150]}, "axis": {"orient": "left", "values": [-100, -75, -50, -25, 0, 25, 50, 75, 100, 125, 150], "labelExpr": "datum.value % 50 === 0 ? '' + datum.value : ''", "labelPadding": 38, "title": "Energy (meV)", "titleX": -136, "titleY": 202.5, "titleAngle": 270, "titleBaseline": "middle", "titleAlign": "center"}},
    "color": {"field": "g", "type": "nominal", "scale": {"domain": ["P", "U", "L"], "range": ["#4570e0", "#dc2d4f", "#111111"]}, "legend": null},
    "detail": {"field": "s"}}},
  {"transform": [{"filter": "datum.pt == 1"}],
   "mark": {"type": "point", "filled": false, "strokeWidth": 2, "size": 380, "opacity": 1},
   "encoding": {
    "x": {"field": "x", "type": "quantitative", "axis": {"orient": "top", "values": [0, 0.2, 0.4, 0.6, 0.8, 1], "labels": false, "title": null}},
    "y": {"field": "y", "type": "quantitative", "axis": {"orient": "right", "values": [-100, -75, -50, -25, 0, 25, 50, 75, 100, 125, 150], "labels": false, "title": null}},
    "color": {"field": "g", "type": "nominal", "scale": {"domain": ["P", "U", "L"], "range": ["#4570e0", "#dc2d4f", "#111111"]}, "legend": null},
    "shape": {"field": "m", "type": "nominal", "scale": {"domain": ["o", "x", "+", "s"], "range": ["circle", "M-1,-1L1,1M-1,1L1,-1", "M-1,0L1,0M0,-1L0,1", "square"]}, "legend": null}}},
  {"data": {"values": [{"t": "c"}]},
   "mark": {"type": "text", "font": "Liberation Serif", "fontSize": 42, "baseline": "middle", "align": "center", "color": "#1a1a1a"},
   "encoding": {"x": {"datum": 0.925, "type": "quantitative", "axis": null}, "y": {"datum": -78.6, "type": "quantitative", "axis": null}, "text": {"field": "t"}}}
 ],
 "resolve": {"axis": {"x": "independent", "y": "independent"}}
},
{
 "width": 453, "height": 405, "data": {"name": "d"},
 "layer": [
  {"mark": {"type": "line", "interpolate": "monotone", "strokeWidth": 2, "clip": true},
   "encoding": {
    "x": {"field": "x", "type": "quantitative", "scale": {"domain": [0, 1]}, "axis": {"orient": "bottom", "values": [0, 0.2, 0.4, 0.6, 0.8, 1], "format": "~g", "labelPadding": 50, "labelBaseline": "middle", "title": "d/a", "titleFontStyle": "italic", "titleX": 226.5, "titleY": 86, "titleBaseline": "middle", "titleAlign": "center", "titleAngle": 0}},
    "y": {"field": "y", "type": "quantitative", "scale": {"type": "log", "domain": [1e-7, 1]}, "axis": {"orient": "left", "values": [1e-7, 1e-6, 1e-5, 1e-4, 1e-3, 1e-2, 1e-1, 1], "labelExpr": "['10⁰','10⁻¹','10⁻²','10⁻³','10⁻⁴','10⁻⁵','10⁻⁶','10⁻⁷'][round(-log(datum.value)/LN10)]", "labelPadding": 42, "title": "Transition Rate (GHz)", "titleX": -117, "titleY": 202.5, "titleAngle": 270, "titleBaseline": "middle", "titleAlign": "center"}},
    "color": {"field": "g", "type": "nominal", "scale": {"domain": ["P", "U", "L"], "range": ["#4570e0", "#dc2d4f", "#111111"]}, "legend": null},
    "detail": {"field": "s"}}},
  {"transform": [{"filter": "datum.pt == 1"}],
   "mark": {"type": "point", "filled": false, "strokeWidth": 2, "size": 380, "opacity": 1},
   "encoding": {
    "x": {"field": "x", "type": "quantitative", "axis": {"orient": "top", "values": [0, 0.2, 0.4, 0.6, 0.8, 1], "labels": false, "title": null}},
    "y": {"field": "y", "type": "quantitative", "axis": {"orient": "right", "values": [1e-7, 1e-6, 1e-5, 1e-4, 1e-3, 1e-2, 1e-1, 1], "labels": false, "title": null}},
    "color": {"field": "g", "type": "nominal", "scale": {"domain": ["P", "U", "L"], "range": ["#4570e0", "#dc2d4f", "#111111"]}, "legend": null},
    "shape": {"field": "m", "type": "nominal", "scale": {"domain": ["o", "x", "+", "s"], "range": ["circle", "M-1,-1L1,1M-1,1L1,-1", "M-1,0L1,0M0,-1L0,1", "square"]}, "legend": null}}},
  {"data": {"values": [{"t": "d"}]},
   "mark": {"type": "text", "font": "Liberation Serif", "fontSize": 42, "baseline": "middle", "align": "center", "color": "#1a1a1a"},
   "encoding": {"x": {"datum": 0.927, "type": "quantitative", "axis": null}, "y": {"datum": 3.7e-7, "type": "quantitative", "axis": null}, "text": {"field": "t"}}}
 ],
 "resolve": {"axis": {"x": "independent", "y": "independent"}}
},
{
 "width": 393, "height": 405, "data": {"values": [{}]},
 "layer": [
  {"mark": {"type": "text", "text": "The radiative transition rates:", "align": "left", "baseline": "middle", "font": "Lato", "fontSize": 45, "color": "#000"},
   "encoding": {"x": {"datum": -48.1, "type": "quantitative", "scale": {"domain": [0, 100]}, "axis": null}, "y": {"datum": 104.0, "type": "quantitative", "scale": {"domain": [0, 100]}, "axis": null}}},
  {"mark": {"type": "text", "text": "Γₖ", "align": "center", "baseline": "middle", "font": "Liberation Serif", "fontSize": 36, "color": "#4d4d4d"},
   "encoding": {"x": {"datum": -40.2, "type": "quantitative", "scale": {"domain": [0, 100]}, "axis": null}, "y": {"datum": 74.8, "type": "quantitative", "scale": {"domain": [0, 100]}, "axis": null}}},
  {"mark": {"type": "text", "text": "=", "align": "center", "baseline": "middle", "font": "Liberation Serif", "fontSize": 36, "color": "#4d4d4d"},
   "encoding": {"x": {"datum": -29.5, "type": "quantitative", "scale": {"domain": [0, 100]}, "axis": null}, "y": {"datum": 75.6, "type": "quantitative", "scale": {"domain": [0, 100]}, "axis": null}}},
  {"mark": {"type": "text", "text": "1", "align": "center", "baseline": "middle", "font": "Liberation Serif", "fontSize": 36, "color": "#4d4d4d"},
   "encoding": {"x": {"datum": -18.3, "type": "quantitative", "scale": {"domain": [0, 100]}, "axis": null}, "y": {"datum": 81.5, "type": "quantitative", "scale": {"domain": [0, 100]}, "axis": null}}},
  {"mark": {"type": "rule", "color": "#4d4d4d", "strokeWidth": 2},
   "encoding": {"x": {"datum": -22.9, "type": "quantitative", "scale": {"domain": [0, 100]}, "axis": null}, "x2": {"datum": -13.7}, "y": {"datum": 75.6, "type": "quantitative", "scale": {"domain": [0, 100]}, "axis": null}}},
  {"mark": {"type": "text", "text": "τₖ", "align": "center", "baseline": "middle", "font": "Liberation Serif", "fontSize": 36, "fontStyle": "italic", "color": "#4d4d4d"},
   "encoding": {"x": {"datum": -18.3, "type": "quantitative", "scale": {"domain": [0, 100]}, "axis": null}, "y": {"datum": 67.9, "type": "quantitative", "scale": {"domain": [0, 100]}, "axis": null}}},
  {"mark": {"type": "text", "text": "=", "align": "center", "baseline": "middle", "font": "Liberation Serif", "fontSize": 36, "color": "#4d4d4d"},
   "encoding": {"x": {"datum": -7.9, "type": "quantitative", "scale": {"domain": [0, 100]}, "axis": null}, "y": {"datum": 75.6, "type": "quantitative", "scale": {"domain": [0, 100]}, "axis": null}}},
  {"mark": {"type": "text", "text": "e²ωnᵣ", "align": "center", "baseline": "middle", "font": "Liberation Serif", "fontSize": 36, "fontStyle": "italic", "color": "#4d4d4d"},
   "encoding": {"x": {"datum": 21.6, "type": "quantitative", "scale": {"domain": [0, 100]}, "axis": null}, "y": {"datum": 81.2, "type": "quantitative", "scale": {"domain": [0, 100]}, "axis": null}}},
  {"mark": {"type": "rule", "color": "#4d4d4d", "strokeWidth": 2},
   "encoding": {"x": {"datum": 0.25, "type": "quantitative", "scale": {"domain": [0, 100]}, "axis": null}, "x2": {"datum": 42.5}, "y": {"datum": 75.6, "type": "quantitative", "scale": {"domain": [0, 100]}, "axis": null}}},
  {"mark": {"type": "text", "text": "3πϵ₀m₀²c³ℏ", "align": "center", "baseline": "middle", "font": "Liberation Serif", "fontSize": 36, "fontStyle": "italic", "color": "#4d4d4d"},
   "encoding": {"x": {"datum": 21.6, "type": "quantitative", "scale": {"domain": [0, 100]}, "axis": null}, "y": {"datum": 68.6, "type": "quantitative", "scale": {"domain": [0, 100]}, "axis": null}}},
  {"mark": {"type": "text", "text": "D²|⟨ψₖ|p̂|0⟩|².", "align": "left", "baseline": "middle", "font": "Liberation Serif", "fontSize": 36, "fontStyle": "italic", "color": "#4d4d4d"},
   "encoding": {"x": {"datum": 43.0, "type": "quantitative", "scale": {"domain": [0, 100]}, "axis": null}, "y": {"datum": 75.6, "type": "quantitative", "scale": {"domain": [0, 100]}, "axis": null}}},
  {"mark": {"type": "text", "text": "where", "align": "left", "baseline": "middle", "font": "Lato", "fontSize": 42, "color": "#000"},
   "encoding": {"x": {"datum": -39.7, "type": "quantitative", "scale": {"domain": [0, 100]}, "axis": null}, "y": {"datum": 45.9, "type": "quantitative", "scale": {"domain": [0, 100]}, "axis": null}}},
  {"mark": {"type": "text", "text": "D", "align": "center", "baseline": "middle", "font": "Liberation Serif", "fontSize": 36, "fontStyle": "italic", "color": "#4d4d4d"},
   "encoding": {"x": {"datum": -12.0, "type": "quantitative", "scale": {"domain": [0, 100]}, "axis": null}, "y": {"datum": 23.5, "type": "quantitative", "scale": {"domain": [0, 100]}, "axis": null}}},
  {"mark": {"type": "text", "text": "=", "align": "center", "baseline": "middle", "font": "Liberation Serif", "fontSize": 36, "color": "#4d4d4d"},
   "encoding": {"x": {"datum": -2.5, "type": "quantitative", "scale": {"domain": [0, 100]}, "axis": null}, "y": {"datum": 23.5, "type": "quantitative", "scale": {"domain": [0, 100]}, "axis": null}}},
  {"mark": {"type": "text", "text": "3ϵ", "align": "right", "baseline": "middle", "font": "Liberation Serif", "fontSize": 36, "color": "#4d4d4d"},
   "encoding": {"x": {"datum": 25.2, "type": "quantitative", "scale": {"domain": [0, 100]}, "axis": null}, "y": {"datum": 27.4, "type": "quantitative", "scale": {"domain": [0, 100]}, "axis": null}}},
  {"mark": {"type": "text", "text": "med", "align": "left", "baseline": "middle", "font": "Liberation Serif", "fontSize": 24, "fontStyle": "italic", "color": "#4d4d4d"},
   "encoding": {"x": {"datum": 25.2, "type": "quantitative", "scale": {"domain": [0, 100]}, "axis": null}, "y": {"datum": 25.9, "type": "quantitative", "scale": {"domain": [0, 100]}, "axis": null}}},
  {"mark": {"type": "rule", "color": "#4d4d4d", "strokeWidth": 2},
   "encoding": {"x": {"datum": 4.6, "type": "quantitative", "scale": {"domain": [0, 100]}, "axis": null}, "x2": {"datum": 49.4}, "y": {"datum": 23.0, "type": "quantitative", "scale": {"domain": [0, 100]}, "axis": null}}},
  {"mark": {"type": "text", "text": "2ϵ", "align": "right", "baseline": "middle", "font": "Liberation Serif", "fontSize": 36, "color": "#4d4d4d"},
   "encoding": {"x": {"datum": 12.2, "type": "quantitative", "scale": {"domain": [0, 100]}, "axis": null}, "y": {"datum": 16.8, "type": "quantitative", "scale": {"domain": [0, 100]}, "axis": null}}},
  {"mark": {"type": "text", "text": "med", "align": "left", "baseline": "middle", "font": "Liberation Serif", "fontSize": 24, "fontStyle": "italic", "color": "#4d4d4d"},
   "encoding": {"x": {"datum": 12.2, "type": "quantitative", "scale": {"domain": [0, 100]}, "axis": null}, "y": {"datum": 15.3, "type": "quantitative", "scale": {"domain": [0, 100]}, "axis": null}}},
  {"mark": {"type": "text", "text": "+", "align": "center", "baseline": "middle", "font": "Liberation Serif", "fontSize": 36, "color": "#4d4d4d"},
   "encoding": {"x": {"datum": 29.3, "type": "quantitative", "scale": {"domain": [0, 100]}, "axis": null}, "y": {"datum": 16.8, "type": "quantitative", "scale": {"domain": [0, 100]}, "axis": null}}},
  {"mark": {"type": "text", "text": "ϵ", "align": "center", "baseline": "middle", "font": "Liberation Serif", "fontSize": 36, "color": "#4d4d4d"},
   "encoding": {"x": {"datum": 35.6, "type": "quantitative", "scale": {"domain": [0, 100]}, "axis": null}, "y": {"datum": 16.8, "type": "quantitative", "scale": {"domain": [0, 100]}, "axis": null}}},
  {"mark": {"type": "text", "text": "NC", "align": "left", "baseline": "middle", "font": "Liberation Serif", "fontSize": 24, "fontStyle": "italic", "color": "#4d4d4d"},
   "encoding": {"x": {"datum": 37.7, "type": "quantitative", "scale": {"domain": [0, 100]}, "axis": null}, "y": {"datum": 15.3, "type": "quantitative", "scale": {"domain": [0, 100]}, "axis": null}}},
  {"mark": {"type": "rect", "fillOpacity": 0, "stroke": "#1f3864", "strokeWidth": 2},
   "encoding": {"x": {"datum": 74.6, "type": "quantitative", "scale": {"domain": [0, 100]}, "axis": null}, "x2": {"datum": 102.8}, "y": {"datum": -21.5, "type": "quantitative", "scale": {"domain": [0, 100]}, "axis": null}, "y2": {"datum": -24.6}}}
 ]
}
]
}
